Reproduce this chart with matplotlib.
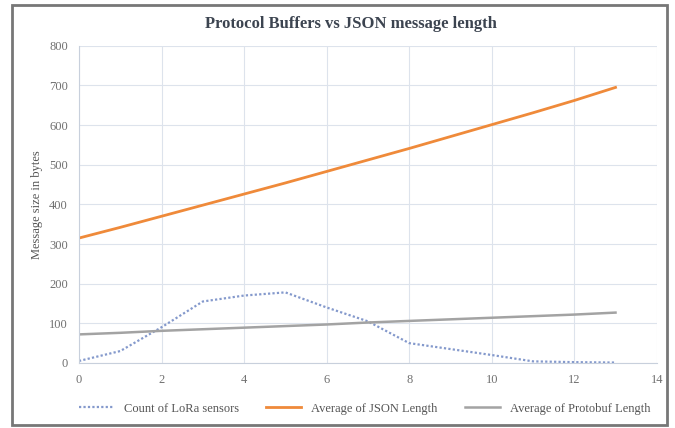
import matplotlib.pyplot as plt
from matplotlib.patches import Rectangle

x = list(range(14))
lora_count = [5, 30, 90, 155, 170, 178, 140, 105, 50, 35, 20, 4, 2, 1]
json_len = [315, 342, 370, 398, 426, 454, 483, 512, 541, 571, 601, 631, 662, 695]
protobuf_len = [72, 76, 81, 85, 89, 93, 97, 102, 106, 110, 114, 118, 122, 127]

plt.rcParams['font.family'] = ['Liberation Serif', 'DejaVu Serif']

fig = plt.figure(figsize=(6.75, 4.28), dpi=100)
ax = fig.add_axes([0.117, 0.152, 0.856, 0.741])

ax.plot(x, lora_count, color='#8499cc', linestyle=(0, (1, 1)), linewidth=1.6,
        label='Count of LoRa sensors')
ax.plot(x, json_len, color='#ef8a3a', linewidth=2.0, label='Average of JSON Length')
ax.plot(x, protobuf_len, color='#a3a3a3', linewidth=1.8, label='Average of Protobuf Length')

ax.set_xlim(0, 14)
ax.set_ylim(0, 800)
ax.set_xticks(range(0, 15, 2))
ax.set_yticks(range(0, 801, 100))
ax.grid(True, color='#dde3ec', linewidth=0.8)
ax.set_axisbelow(True)
for s in ['top', 'right']:
    ax.spines[s].set_visible(False)
ax.spines['left'].set_color('#c8d0dc')
ax.spines['bottom'].set_color('#c8d0dc')
ax.tick_params(length=0, colors='#707070', labelsize=9, pad=8)
ax.set_ylabel('Message size in bytes', fontsize=9, color='#555555')

fig.text(0.52, 0.945, 'Protocol Buffers vs JSON message length', ha='center',
         va='center', fontsize=12, fontweight='bold', color='#3c4450')

fig.legend(loc='center', bbox_to_anchor=(0.54, 0.045), ncol=3, frameon=False,
           fontsize=9, labelcolor='#555555', handlelength=2.8, columnspacing=2.2)

fig.patches.append(Rectangle((0.018, 0.008), 0.97, 0.98, transform=fig.transFigure,
                             fill=False, edgecolor='#777777', linewidth=2))

fig.savefig('out.png', dpi=100)
